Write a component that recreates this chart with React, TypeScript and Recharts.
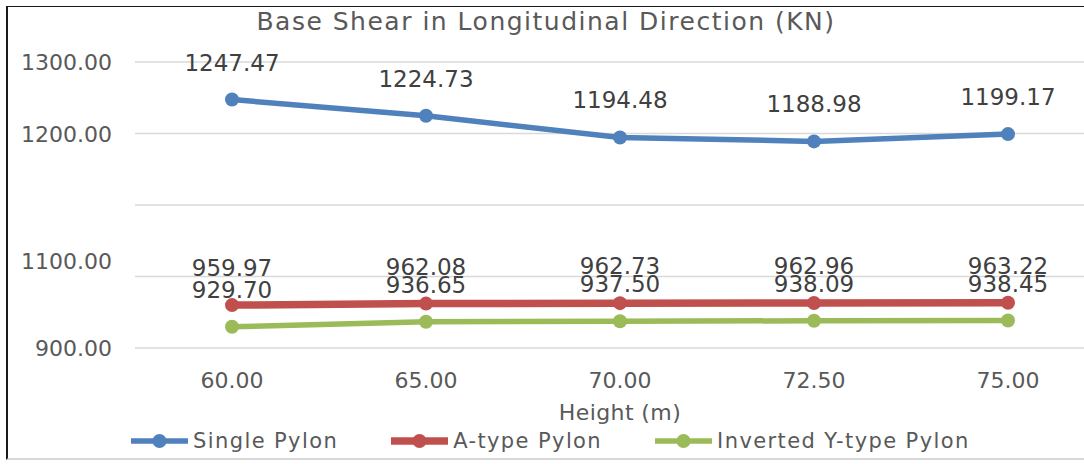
import React from "react";
import { LineChart, Line, XAxis, YAxis, CartesianGrid, LabelList, Label } from "recharts";

const heights = ["60.00", "65.00", "70.00", "72.50", "75.00"];
const singlePylon = [1247.47, 1224.73, 1194.48, 1188.98, 1199.17];
const aTypePylon = [959.97, 962.08, 962.73, 962.96, 963.22];
const invertedYPylon = [929.7, 936.65, 937.5, 938.09, 938.45];

const yTicks = [900, 1000, 1100, 1200, 1300];
// the source chart prints its labels oddly: no label on 1100, "1100.00" next to the 1000 line
const yTickLabels = ["900.00", "1100.00", "", "1200.00", "1300.00"];

const series = [
  { key: "single", name: "Single Pylon", color: "#4F81BD", width: 5.5 },
  { key: "aType", name: "A-type Pylon", color: "#C0504D", width: 7.5 },
  { key: "invY", name: "Inverted Y-type Pylon", color: "#9BBB59", width: 5.5 },
];

const data = heights.map((h, i) => ({
  height: h,
  single: singlePylon[i],
  aType: aTypePylon[i],
  invY: invertedYPylon[i],
}));

const FONT = "'DejaVu Sans', sans-serif";

const YTick = (props: any) => {
  const { x, y, payload } = props;
  const label = yTickLabels[yTicks.indexOf(payload.value)];
  const shift = payload.value === 1000 ? -16 : 0;
  return (
    <text x={x} y={y + shift + 8} textAnchor="end" fontSize={22} fill="#595959" fontFamily={FONT}>
      {label}
    </text>
  );
};

const XTick = (props: any) => {
  const { x, y, payload } = props;
  return (
    <text x={x} y={y + 40} textAnchor="middle" fontSize={22} fill="#595959" fontFamily={FONT}>
      {payload.value}
    </text>
  );
};

const ValueLabel = (props: any) => {
  const x = props.x ?? props.viewBox?.x;
  const y = props.y ?? props.viewBox?.y;
  return (
    <text x={x} y={y - 29} textAnchor="middle" fontSize={23} fill="#404040" fontFamily={FONT}>
      {Number(props.value).toFixed(2)}
    </text>
  );
};

const AxisTitle = (props: any) => {
  const vb = props.viewBox;
  return (
    <text
      x={vb.x + vb.width / 2}
      y={vb.y + 72}
      textAnchor="middle"
      fontSize={22}
      fill="#595959"
      fontFamily={FONT}
      letterSpacing={0.4}
    >
      Height (m)
    </text>
  );
};

function ChartLegend() {
  return (
    <div
      style={{
        position: "absolute",
        left: 131,
        top: 426,
        height: 30,
        display: "flex",
        alignItems: "center",
        gap: 53,
        fontFamily: FONT,
        fontSize: 21,
        letterSpacing: 1.4,
        color: "#595959",
      }}
    >
      {series.map((s) => (
        <div key={s.key} style={{ display: "flex", alignItems: "center" }}>
          <svg width={57} height={16} style={{ marginRight: 5 }}>
            <line x1={0} y1={8} x2={57} y2={8} stroke={s.color} strokeWidth={s.width} />
            <circle cx={28.5} cy={8} r={7} fill={s.color} />
          </svg>
          <span>{s.name}</span>
        </div>
      ))}
    </div>
  );
}

export default function App() {
  return (
    <div
      style={{
        position: "fixed",
        left: 0,
        top: 0,
        width: 1084,
        height: 464,
        overflow: "hidden",
        background: "#fff",
      }}
    >
      <div
        style={{
          position: "absolute",
          left: 6,
          top: 6,
          right: -10,
          bottom: 4,
          borderLeft: "2px solid #1a1a1a",
          borderTop: "1px solid #1a1a1a",
          borderBottom: "2px solid #d9d9d9",
        }}
      />
      <div
        style={{
          position: "absolute",
          left: 0,
          width: 1092,
          top: 6,
          textAlign: "center",
          fontFamily: FONT,
          fontSize: 25,
          letterSpacing: 1.5,
          color: "#595959",
          lineHeight: "32px",
        }}
      >
        Base Shear in Longitudinal Direction (KN)
      </div>
      <LineChart
        width={1110}
        height={464}
        data={data}
        margin={{ top: 62, right: 5, left: 8, bottom: 0 }}
        style={{ position: "absolute", left: 0, top: 0 }}
      >
        <CartesianGrid vertical={false} stroke="#d9d9d9" strokeWidth={1.5} />
        <XAxis
          dataKey="height"
          axisLine={false}
          tickLine={false}
          tickSize={0}
          tickMargin={0}
          height={116}
          padding={{ left: 97, right: 97 }}
          tick={<XTick />}
          interval={0}
        >
          <Label content={<AxisTitle />} />
        </XAxis>
        <YAxis
          domain={[900, 1300]}
          ticks={yTicks}
          axisLine={false}
          tickLine={false}
          tickSize={0}
          tickMargin={23}
          width={127}
          tick={<YTick />}
          interval={0}
        />
        {series.map((s) => (
          <Line
            key={s.key}
            dataKey={s.key}
            name={s.name}
            type="linear"
            stroke={s.color}
            strokeWidth={s.width}
            dot={{ r: 7, fill: s.color, stroke: "none" }}
            activeDot={false}
            isAnimationActive={false}
          >
            <LabelList dataKey={s.key} content={<ValueLabel />} />
          </Line>
        ))}
      </LineChart>
      <ChartLegend />
    </div>
  );
}
